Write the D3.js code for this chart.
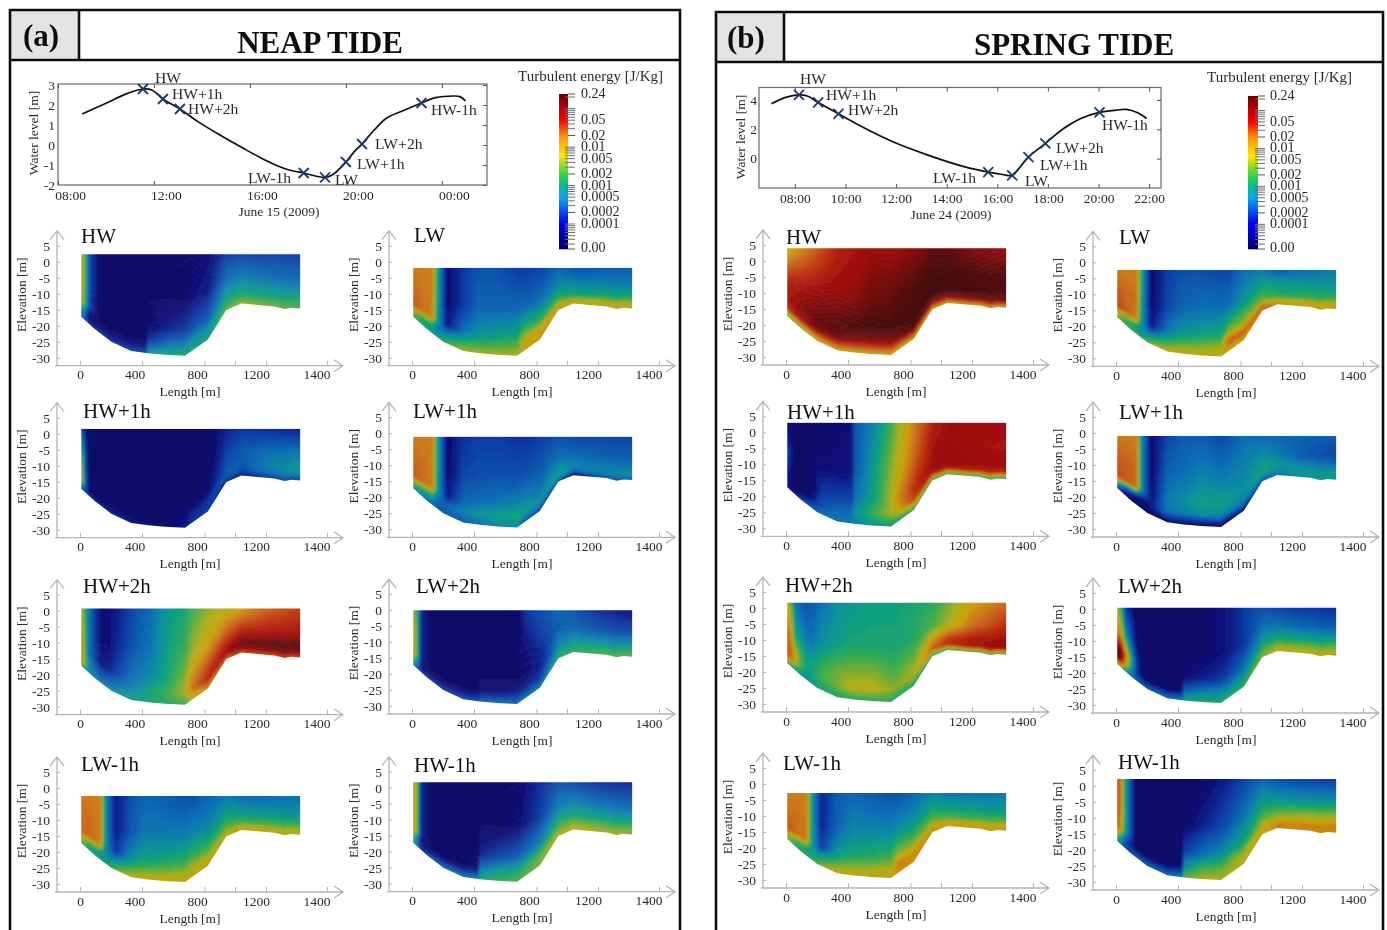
<!DOCTYPE html>
<html><head><meta charset="utf-8">
<style>html,body{margin:0;padding:0;background:#fff;overflow:hidden}svg{display:block;font-family:"Liberation Serif",serif}</style>
<script src="https://cdn.jsdelivr.net/npm/d3@7"></script></head><body>
<svg id="c" width="1387" height="930"></svg>
<script>
// Tide curves: time (hours, 24+ = next day) and water level (m)
const neapCurveT=[9.01,9.98,10.9,11.54,11.91,12.37,13.08,13.83,14.75,15.67,16.58,17.5,18.24,19.13,19.43,20,20.35,20.67,21.18,21.7,22.45,23.15,23.74,24.47,24.75,24.99];
const neapCurveL=[1.55,2.08,2.58,2.8,2.75,2.3,1.8,1.17,0.5,-0.13,-0.72,-1.2,-1.4,-1.62,-1.5,-0.85,-0.33,0.05,0.75,1.35,1.75,2.1,2.37,2.45,2.42,2.2];
const neapMarkT=[11.54,12.37,13.08,18.24,19.13,20,20.67,23.15];
const neapMarkL=[2.8,2.3,1.8,-1.4,-1.62,-0.85,0.05,2.1];
const springCurveT=[7.07,7.63,8.16,8.49,8.92,9.72,10.65,11.87,13.26,14.65,15.64,16.2,16.59,16.8,17.23,17.9,18.62,19.3,20.04,20.7,21.1,21.55,21.9];
const springCurveL=[3.74,4.18,4.35,4.27,3.83,3.06,2.17,1.15,0.24,-0.53,-0.92,-1.08,-1.14,-0.78,0.1,1.04,2.06,2.74,3.15,3.31,3.36,3.13,2.74];
const springMarkT=[8.16,8.92,9.72,15.64,16.59,17.23,17.9,20.04];
const springMarkL=[4.35,3.83,3.06,-0.92,-1.14,0.1,1.04,3.15];
const markNames=["HW","HW+1h","HW+2h","LW-1h","LW","LW+1h","LW+2h","HW-1h"];
const neapTicks=[8,12,16,20,24];
const springTicks=[8,10,12,14,16,18,20,22];
// Colour bar
const barLabelValues=[0.24,0.05,0.02,0.01,0.005,0.002,0.001,0.0005,0.0002,0.0001];
const barMajor=[0.24,0.02,0.002,0.0002];
// Cross-section: bed profile (length m, elevation m)
const bedX=[8,95,202,331,438,548,675,822,943,1041,1228,1261,1283,1312];
const bedZ=[-17.2,-21,-25,-27.9,-28.6,-29.1,-29.4,-24.3,-15.1,-13.1,-14,-14.8,-14.4,-14.6];
// Turbulent energy grid: columns (length m), rows (fraction of water depth below surface), values log10(J/kg)
const gridX=[8,35,60,130,165,230,330,425,440,560,680,720,830,950,1050,1312];
const gridS=[0,.45,.75,.88,1];
const neapHW=[
[-2.0,-2.7,-3.8,-4.6,-4.6,-4.6,-4.6,-4.6,-4.6,-4.6,-4.6,-4.6,-4.4,-4.0,-3.9,-4.0],
[-2.0,-2.7,-3.8,-4.6,-4.6,-4.6,-4.6,-4.6,-4.6,-4.6,-4.5,-4.4,-4.2,-3.5,-3.4,-3.6],
[-2.1,-2.8,-3.9,-4.6,-4.6,-4.6,-4.6,-4.6,-4.5,-4.2,-4.0,-3.9,-3.7,-3.0,-3.0,-3.1],
[-3.2,-3.6,-4.6,-4.6,-4.6,-4.6,-4.6,-4.6,-4.0,-3.6,-3.4,-3.3,-3.2,-2.8,-2.7,-2.8],
[-3.5,-3.8,-4.2,-4.0,-4.0,-4.0,-3.9,-3.9,-3.1,-2.9,-2.8,-2.9,-3.0,-2.5,-2.3,-2.6]];
const neapHWp1=[
[-3.7,-4.3,-4.6,-4.6,-4.6,-4.6,-4.6,-4.6,-4.6,-4.6,-4.6,-4.6,-4.6,-4.2,-4.0,-4.2],
[-2.4,-3.8,-4.6,-4.6,-4.6,-4.6,-4.6,-4.6,-4.6,-4.6,-4.6,-4.6,-4.6,-3.9,-3.7,-3.4],
[-2.1,-3.6,-4.6,-4.6,-4.6,-4.6,-4.6,-4.6,-4.6,-4.6,-4.6,-4.6,-4.4,-3.7,-3.7,-3.1],
[-2.1,-3.6,-4.5,-4.6,-4.6,-4.6,-4.6,-4.6,-4.6,-4.6,-4.4,-4.2,-4.0,-3.6,-3.8,-3.2],
[-3.9,-4.0,-4.1,-4.1,-4.1,-4.1,-4.2,-4.3,-4.3,-4.4,-4.3,-4.0,-4.0,-4.2,-4.3,-3.8]];
const neapHWp2=[
[-2.2,-2.9,-3.5,-4.4,-4.5,-4.3,-3.9,-3.6,-3.6,-3.1,-2.9,-2.7,-2.4,-2.2,-2.0,-1.4],
[-1.8,-2.8,-3.5,-4.4,-4.5,-4.2,-3.8,-3.5,-3.5,-3.0,-2.7,-2.4,-2.0,-1.6,-1.3,-1.1],
[-1.8,-2.7,-3.5,-4.2,-4.3,-4.0,-3.5,-3.3,-3.3,-2.9,-2.4,-1.9,-1.4,-1.1,-0.8,-0.7],
[-1.7,-2.6,-3.3,-3.8,-3.8,-3.6,-3.3,-3.1,-3.0,-2.7,-2.3,-1.7,-1.2,-1.0,-0.9,-0.8],
[-2.6,-3.0,-3.3,-3.4,-3.3,-3.1,-3.0,-2.9,-2.9,-2.8,-2.7,-2.3,-1.9,-1.6,-1.5,-1.5]];
const neapLWm1=[
[-1.8,-1.8,-1.8,-1.8,-3.2,-4.3,-3.8,-3.6,-3.6,-3.7,-3.8,-3.8,-3.6,-3.4,-3.6,-3.5],
[-1.7,-1.7,-1.7,-1.8,-3.2,-4.3,-3.7,-3.4,-3.4,-3.4,-3.4,-3.3,-3.3,-3.0,-3.1,-3.2],
[-1.7,-1.7,-1.7,-1.8,-3.2,-4.0,-3.2,-3.0,-3.0,-2.9,-2.8,-2.7,-2.7,-2.6,-2.7,-2.7],
[-2.3,-2.5,-2.8,-3.0,-3.3,-3.2,-2.7,-2.6,-2.6,-2.5,-2.4,-2.3,-2.3,-2.3,-2.3,-2.3],
[-2.6,-2.7,-2.9,-3.0,-2.9,-2.5,-2.2,-2.1,-2.1,-2.1,-2.1,-2.1,-2.1,-2.2,-2.1,-2.2]];
const neapLW=[
[-1.8,-1.8,-1.8,-1.8,-2.9,-4.5,-4.0,-3.8,-3.8,-3.8,-4.0,-4.0,-3.9,-3.6,-3.8,-3.7],
[-1.7,-1.7,-1.75,-1.8,-3.0,-4.5,-4.0,-3.6,-3.6,-3.6,-3.6,-3.6,-3.5,-3.2,-3.3,-3.3],
[-1.6,-1.6,-1.7,-1.8,-3.1,-4.3,-3.5,-3.2,-3.2,-3.1,-3.0,-2.7,-2.7,-2.7,-2.9,-2.8],
[-2.4,-2.6,-2.8,-3.0,-3.4,-3.3,-2.9,-2.8,-2.8,-2.7,-2.6,-2.1,-2.0,-2.1,-2.3,-2.2],
[-2.7,-2.7,-2.9,-3.0,-3.0,-2.6,-2.3,-2.3,-2.3,-2.3,-2.3,-2.1,-1.9,-2.0,-2.1,-2.2]];
const neapLWp1=[
[-1.8,-1.8,-1.8,-1.8,-3.0,-4.5,-4.1,-4.0,-4.0,-4.0,-4.1,-4.1,-4.0,-3.8,-3.9,-3.9],
[-1.7,-1.7,-1.7,-1.8,-3.0,-4.5,-3.9,-3.8,-3.8,-3.8,-3.8,-3.8,-3.7,-3.5,-3.6,-3.7],
[-1.6,-1.6,-1.7,-1.8,-3.1,-4.3,-3.6,-3.5,-3.5,-3.4,-3.3,-3.3,-3.4,-3.1,-3.3,-3.4],
[-2.6,-2.7,-2.9,-3.1,-3.6,-3.6,-3.3,-3.1,-3.1,-3.0,-2.9,-3.0,-3.2,-3.0,-3.5,-3.2],
[-3.1,-3.2,-3.4,-3.6,-3.7,-3.7,-3.7,-3.6,-3.5,-3.3,-3.3,-3.7,-3.9,-4.0,-4.6,-3.6]];
const neapLWp2=[
[-2.4,-2.8,-4.2,-4.6,-4.6,-4.6,-4.6,-4.6,-4.6,-4.6,-4.6,-4.1,-3.8,-3.6,-3.8,-4.4],
[-2.0,-2.7,-4.2,-4.6,-4.6,-4.6,-4.6,-4.6,-4.6,-4.6,-4.6,-4.4,-4.1,-3.6,-3.6,-3.9],
[-1.9,-2.7,-4.2,-4.6,-4.6,-4.6,-4.6,-4.6,-4.6,-4.6,-4.6,-4.5,-4.2,-3.3,-3.1,-3.2],
[-2.5,-3.2,-4.5,-4.6,-4.6,-4.6,-4.6,-4.6,-4.4,-4.4,-4.2,-4.2,-4.0,-3.0,-2.9,-2.8],
[-3.5,-3.7,-4.0,-3.9,-3.9,-3.9,-3.8,-3.8,-3.6,-3.5,-3.5,-3.5,-3.4,-2.9,-2.8,-2.6]];
const neapHWm1=[
[-1.9,-2.5,-4.2,-4.6,-4.6,-4.6,-4.6,-4.6,-4.6,-4.6,-4.6,-4.4,-4.1,-3.8,-3.9,-4.2],
[-1.9,-2.5,-4.2,-4.6,-4.6,-4.6,-4.6,-4.6,-4.6,-4.6,-4.4,-4.3,-3.9,-3.4,-3.3,-3.6],
[-1.9,-2.5,-4.2,-4.6,-4.6,-4.6,-4.6,-4.6,-4.2,-3.9,-3.7,-3.6,-3.3,-2.8,-2.8,-3.0],
[-2.6,-3.3,-4.6,-4.6,-4.6,-4.6,-4.6,-4.5,-3.5,-3.2,-3.0,-2.9,-2.6,-2.5,-2.4,-2.6],
[-3.2,-3.6,-4.0,-3.7,-3.6,-3.5,-3.4,-3.4,-2.9,-2.7,-2.6,-2.6,-2.4,-2.2,-2.2,-2.4]];
const springHW=[
[-2.2,-2.1,-2.0,-1.8,-1.7,-1.5,-1.2,-1.1,-1.1,-1.0,-1.0,-1.0,-0.9,-0.75,-0.75,-1.0],
[-1.3,-1.2,-1.2,-1.1,-1.05,-1.0,-1.0,-0.95,-0.95,-0.8,-0.75,-0.7,-0.65,-0.6,-0.6,-0.7],
[-1.1,-1.0,-1.0,-0.8,-0.8,-0.75,-0.7,-0.65,-0.65,-0.6,-0.6,-0.6,-0.6,-0.6,-0.6,-0.65],
[-1.3,-1.2,-1.1,-1.0,-0.9,-0.85,-0.8,-0.9,-0.9,-0.9,-0.9,-0.8,-0.65,-0.9,-0.9,-0.8],
[-2.6,-2.6,-2.6,-2.4,-2.3,-2.2,-2.1,-2.1,-2.1,-2.1,-2.1,-2.1,-2.1,-2.1,-2.1,-2.1]];
const springHWp1=[
[-4.5,-4.5,-4.6,-4.6,-4.6,-4.6,-4.5,-4.4,-3.8,-3.3,-2.7,-2.4,-1.8,-1.2,-1.0,-1.05],
[-3.9,-4.3,-4.6,-4.6,-4.5,-4.4,-4.4,-4.4,-3.8,-3.1,-2.4,-2.2,-1.6,-1.05,-1.0,-1.1],
[-4.1,-4.4,-4.6,-4.6,-4.6,-4.0,-3.9,-3.9,-3.5,-3.0,-2.3,-1.9,-1.3,-1.0,-1.0,-1.0],
[-4.3,-4.5,-4.6,-4.6,-4.3,-3.8,-3.6,-3.5,-3.2,-2.7,-2.3,-2.0,-1.4,-1.2,-1.2,-1.3],
[-4.3,-4.3,-4.1,-3.7,-3.6,-3.5,-3.4,-3.4,-3.3,-3.1,-3.0,-3.0,-2.8,-2.9,-2.9,-2.9]];
const springHWp2=[
[-2.2,-2.6,-3.5,-3.8,-3.7,-3.5,-3.2,-3.1,-3.1,-3.0,-3.0,-3.0,-2.9,-2.8,-2.5,-1.7],
[-1.6,-2.0,-3.0,-3.4,-3.5,-3.2,-3.0,-2.9,-2.9,-2.9,-2.9,-2.9,-2.8,-2.6,-2.3,-1.3],
[-1.6,-1.6,-2.2,-3.0,-3.0,-2.7,-2.5,-2.4,-2.4,-2.4,-2.6,-2.6,-2.4,-1.8,-1.4,-0.95],
[-1.7,-1.7,-2.2,-3.0,-3.0,-2.7,-2.5,-2.2,-2.2,-2.2,-2.4,-2.4,-2.3,-1.6,-1.3,-1.0],
[-3.0,-3.0,-3.1,-3.2,-3.1,-2.9,-2.9,-2.8,-2.8,-2.8,-2.8,-2.9,-2.9,-3.0,-2.9,-2.8]];
const springLWm1=[
[-1.8,-1.8,-1.8,-1.8,-3.0,-4.2,-3.7,-3.6,-3.6,-3.7,-3.8,-3.8,-3.6,-3.3,-3.5,-3.4],
[-1.7,-1.7,-1.7,-1.8,-3.0,-4.2,-3.6,-3.3,-3.3,-3.3,-3.3,-3.2,-3.1,-2.9,-3.0,-3.1],
[-1.6,-1.6,-1.7,-1.8,-3.0,-3.9,-3.1,-2.9,-2.9,-2.8,-2.7,-2.4,-2.4,-2.4,-2.6,-2.6],
[-2.2,-2.4,-2.7,-2.9,-3.1,-3.0,-2.6,-2.5,-2.5,-2.4,-2.3,-1.8,-1.9,-2.0,-2.1,-2.1],
[-2.5,-2.6,-2.8,-2.9,-2.8,-2.4,-2.1,-2.1,-2.1,-2.1,-2.1,-1.9,-1.9,-1.9,-2.0,-2.0]];
const springLW=[
[-1.8,-1.8,-1.8,-1.8,-2.9,-4.5,-4.0,-3.8,-3.8,-3.8,-3.9,-3.9,-3.5,-3.4,-3.7,-3.4],
[-1.6,-1.6,-1.7,-1.7,-3.0,-4.5,-3.9,-3.6,-3.6,-3.5,-3.5,-3.5,-3.1,-2.9,-3.0,-3.1],
[-1.5,-1.5,-1.6,-1.8,-3.1,-4.3,-3.4,-3.1,-3.1,-3.0,-2.9,-2.5,-2.3,-2.5,-2.8,-2.7],
[-2.2,-2.5,-2.7,-2.9,-3.3,-3.2,-2.8,-2.6,-2.6,-2.5,-2.4,-1.6,-1.6,-1.7,-2.2,-2.1],
[-2.5,-2.5,-2.7,-2.9,-2.9,-2.4,-2.1,-2.1,-2.1,-2.1,-2.1,-2.2,-2.1,-1.7,-1.9,-2.0]];
const springLWp1=[
[-1.8,-1.8,-1.8,-1.8,-3.2,-4.5,-3.9,-3.7,-3.7,-3.7,-3.9,-3.8,-3.5,-3.6,-3.6,-3.7],
[-1.6,-1.6,-1.6,-1.7,-3.2,-4.5,-3.6,-3.5,-3.5,-3.3,-3.4,-3.4,-3.3,-3.2,-3.4,-3.9],
[-1.5,-1.5,-1.6,-1.7,-3.2,-4.4,-3.4,-3.2,-3.2,-3.0,-3.0,-3.1,-3.2,-2.9,-3.1,-3.3],
[-2.7,-3.2,-3.8,-4.3,-4.5,-4.2,-3.5,-3.4,-3.4,-3.2,-3.3,-3.3,-3.4,-3.2,-3.3,-3.0],
[-4.2,-4.3,-4.5,-4.6,-4.6,-4.5,-4.5,-4.5,-4.5,-4.6,-4.6,-4.6,-4.3,-3.8,-3.4,-3.1]];
const springLWp2=[
[-2.3,-2.8,-4.0,-4.6,-4.6,-4.6,-4.6,-4.6,-4.6,-4.6,-4.4,-4.3,-4.0,-3.8,-3.9,-4.1],
[-1.6,-2.0,-3.0,-4.4,-4.6,-4.6,-4.6,-4.6,-4.6,-4.6,-4.4,-4.3,-4.0,-3.4,-3.4,-3.6],
[-0.6,-0.7,-1.6,-3.9,-4.5,-4.6,-4.6,-4.6,-4.4,-4.2,-4.0,-3.9,-3.5,-2.9,-2.8,-2.8],
[-0.9,-1.0,-1.9,-3.9,-4.4,-4.6,-4.6,-4.6,-3.7,-3.4,-3.3,-3.3,-3.1,-2.6,-2.4,-2.4],
[-2.4,-2.6,-3.3,-3.7,-3.7,-3.6,-3.5,-3.3,-2.9,-2.8,-2.8,-2.8,-2.7,-2.4,-2.2,-2.2]];
const springHWm1=[
[-1.4,-1.9,-3.0,-4.6,-4.6,-4.6,-4.6,-4.6,-4.6,-4.6,-4.3,-4.2,-3.9,-3.6,-3.8,-4.0],
[-1.5,-1.9,-3.0,-4.6,-4.6,-4.6,-4.6,-4.6,-4.5,-4.2,-3.9,-3.8,-3.4,-3.0,-3.1,-3.1],
[-1.5,-2.0,-3.0,-4.6,-4.6,-4.6,-4.6,-4.5,-3.9,-3.5,-3.2,-3.1,-2.9,-2.5,-2.4,-2.2],
[-2.2,-3.0,-3.7,-4.6,-4.6,-4.6,-4.6,-4.4,-3.2,-2.7,-2.6,-2.5,-2.3,-2.1,-1.9,-1.8],
[-3.2,-3.6,-3.9,-3.6,-3.6,-3.5,-3.5,-3.4,-2.5,-2.3,-2.3,-2.3,-2.2,-2.1,-1.8,-1.9]];
// Water surface elevation of each section (m)
const neapSurface=[2.3,1.56,0.7,-2.5,-1.9,-1.04,-0.1,1.67];
const springSurface=[4.0,3.0,1.67,-2.8,-2.4,-0.94,0.4,2.2];
const sectionNames=["HW","HW+1h","HW+2h","LW-1h","LW","LW+1h","LW+2h","HW-1h"];
const neapGrids=[neapHW,neapHWp1,neapHWp2,neapLWm1,neapLW,neapLWp1,neapLWp2,neapHWm1];
const springGrids=[springHW,springHWp1,springHWp2,springLWm1,springLW,springLWp1,springLWp2,springHWm1];
const lengthTicks=[0,400,800,1000,1200,1400];
const elevTicks=[5,0,-5,-10,-15,-20,-25,-30];

// ---- layout (positions only) ----
const neapLayout={
 origin:[[80,261.7],[80,433.7],[80,610.7],[80,788],[412,261.7],[412,433.3],[412,610],[412,787.7]],
 title:[[81,243],[83,418],[83,593],[81,771],[414,242],[413,418],[416,593],[414,772]],
 box:{x0:58,x1:487,top:84,bot:185},tx:[8,25.88],ty:[-2,3],
 tr:[185,85],yTicks:[3,2,1,0,-1,-2],xDx:12,ylX:38,ylY:133,yAnchor:55,tickY:200,
 date:"June 15 (2009)",dateX:279,dateY:216,
 marks:[[155,78],[172,94],[188,109],[248,178],[335,180],[357,164],[375,144],[431,110]],
 barX:559,barR:568,barTop:94,barLabel:581,legX:518,legY:81};
const springLayout={
 origin:[[786,261],[786,432.3],[786,608],[786,784],[1116,262.3],[1116,433],[1116,609],[1116,786]],
 title:[[786,244],[787,419],[785,592],[783,770],[1119,244],[1119,419],[1118,593],[1118,769]],
 box:{x0:759,x1:1161,top:87.5,bot:188},tx:[6.58,22.47],ty:[-2,4.85],
 tr:[188,87.5],yTicks:[4,2,0],xDx:0,ylX:745,ylY:137,yAnchor:757,tickY:201,
 date:"June 24 (2009)",dateX:951,dateY:219,
 marks:[[800,79],[826,95],[848,110],[933,178],[1025,181],[1040,165],[1056,148],[1102,125]],
 barX:1248,barR:1258,barTop:96,barLabel:1270,legX:1207,legY:82};
const lenRange=[0,62,124.5,155,186,247];
const lenLabelDx=[0,-7.5,-7.5,0,-10,-10.5];
const markLabelsFont=15.6;

const svg=d3.select("#c");
const defs=svg.append("defs");
defs.append("filter").attr("id","soft").attr("x",0).attr("y",0).attr("width",1387).attr("height",930)
 .attr("filterUnits","userSpaceOnUse").append("feGaussianBlur").attr("stdDeviation",0.45);
defs.append("filter").attr("id","smooth").append("feGaussianBlur").attr("stdDeviation",1.0);
const root=svg.append("g").attr("filter","url(#soft)");
root.append("rect").attr("width",1387).attr("height",930).attr("fill","#fff");
const INK="#2a2a2a";

// colour scales
const fieldDomain=[-4.65,-4.3,-4.0,-3.5,-3.2,-3.0,-2.7,-2.3,-2.0,-1.7,-1.3,-1.0,-0.62];
const fieldStops=["#00005c","#000a78","#0030a0","#0068b0","#008a9a","#009a78","#30a848","#a8aa10","#c89a00","#c86410","#b82000","#960000","#3c0000"];
const fieldColor=d3.scaleLinear().domain(fieldDomain).range(fieldStops).clamp(true).interpolate(d3.interpolateRgb);
const barDomain=[-4.65,-4.0,-3.3,-3.0,-2.7,-2.2,-1.7,-1.3,-1.0,-0.62];
const barStops=["#000070","#0000f0","#00a8f0","#00c090","#40d040","#ffe800","#ff9000","#ff0000","#c00000","#6a0000"];
const barColor=d3.scaleLinear().domain(barDomain).range(barStops).clamp(true);

const bedAt=d3.scaleLinear().domain(bedX).range(bedZ).clamp(true);
const colIdx=d3.scaleLinear().domain(gridX).range(d3.range(gridX.length)).clamp(true);
const rowIdx=d3.scaleLinear().domain(gridS).range(d3.range(gridS.length)).clamp(true);
const fieldValue=(g,xm,s)=>{
  const ci=colIdx(xm),ri=rowIdx(s);
  const c0=Math.min(Math.floor(ci),gridX.length-2),r0=Math.min(Math.floor(ri),gridS.length-2);
  const fx=ci-c0,fy=ri-r0;
  const a=g[r0][c0]*(1-fx)+g[r0][c0+1]*fx, b=g[r0+1][c0]*(1-fx)+g[r0+1][c0+1]*fx;
  return a*(1-fy)+b*fy;
};
const xLen=d3.scaleLinear().domain(lengthTicks).range(lenRange);
const yElev=d3.scaleLinear().domain([0,-30]).range([0,96]);

let pid=0;
function section(g,grid,surface,ox,oy,name,tx,ty){
  pid++;
  const p=g.append("g").attr("transform",`translate(${ox},${oy})`);
  const area=d3.area().x(d=>xLen(d)).y0(yElev(surface)).y1(d=>yElev(bedAt(d)));
  defs.append("clipPath").attr("id","w"+pid).append("path").attr("d",area(bedX));
  const cells=[];
  const step=2;
  const px0=xLen(bedX[0]),px1=xLen(bedX[bedX.length-1]);
  const top=yElev(surface);
  for(let px=px0-4;px<px1+4;px+=step){
    const xm=xLen.invert(px+step/2), bed=bedAt(xm), by=yElev(bed);
    let run=null;
    for(let py=top-4;py<by+5;py+=step){
      const z=yElev.invert(py+step/2);
      const s=Math.max(0,Math.min(1,(surface-z)/(surface-bed)));
      const col=fieldColor(Math.round(fieldValue(grid,xm,s)*30)/30);
      if(run&&run.c===col){run.h+=step;}
      else{run={x:px,y:py,h:step,c:col};cells.push(run);}
    }
  }
  p.append("g").attr("clip-path",`url(#w${pid})`).append("g").attr("filter","url(#smooth)")
   .selectAll("rect").data(cells).join("rect")
   .attr("x",d=>d.x).attr("y",d=>d.y).attr("width",step+.3).attr("height",d=>d.h+.3).attr("fill",d=>d.c);
  const AX="#b5b5b5";
  const yAx=p.append("g").attr("transform","translate(-23,0)");
  yAx.call(d3.axisLeft(yElev).tickValues(elevTicks).tickSize(-3).tickPadding(7).tickFormat(d=>d));
  yAx.select(".domain").remove();
  yAx.selectAll("line").attr("stroke",AX).attr("stroke-width",1);
  yAx.selectAll("text").attr("font-size",13.5).attr("fill",INK).attr("font-family","Liberation Serif");
  const xAx=p.append("g").attr("transform","translate(0,104)");
  xAx.call(d3.axisBottom(xLen).tickValues(lengthTicks).tickSize(-5).tickPadding(4).tickFormat(d=>d===1000?"":d));
  xAx.select(".domain").remove();
  xAx.selectAll("line").attr("stroke",AX).attr("stroke-width",1);
  xAx.selectAll("text").attr("font-size",13.5).attr("fill",INK).attr("font-family","Liberation Serif")
     .attr("dx",(d,i)=>lenLabelDx[i]);
  const ln=d3.line();
  p.append("path").attr("d",ln([[-25,104],[263,104]])+ln([[254,98],[263,104],[254,110]])+ln([[-23,104],[-23,-31]])+ln([[-30,-22],[-23,-31],[-16,-22]]))
   .attr("fill","none").attr("stroke",AX).attr("stroke-width",1.3);
  p.append("text").attr("x",110).attr("y",134.5).attr("text-anchor","middle").attr("font-size",13.5).attr("fill",INK).text("Length [m]");
  p.append("text").attr("transform","translate(-54.5,33) rotate(-90)").attr("text-anchor","middle").attr("font-size",13.5).attr("fill",INK).text("Elevation [m]");
  g.append("text").attr("x",tx).attr("y",ty).attr("font-size",21).attr("fill","#111").text(name);
}

function tide(g,L,curveT,curveL,markT,markL,ticks){
  const x=d3.scaleLinear().domain(L.tx).range([L.box.x0,L.box.x1]);
  const y=d3.scaleLinear().domain(L.ty).range(L.tr);
  g.append("rect").attr("x",L.box.x0).attr("y",L.box.top).attr("width",L.box.x1-L.box.x0).attr("height",L.box.bot-L.box.top)
   .attr("fill","none").attr("stroke","#666").attr("stroke-width",1.2);
  const fmt=d=>String(d%24).padStart(2,"0")+":00";
  const b=g.append("g").attr("transform",`translate(0,${L.box.bot})`);
  b.call(d3.axisBottom(x).tickValues(ticks).tickSize(-4).tickPadding(5).tickFormat(fmt));
  b.select(".domain").remove();
  b.selectAll("line").attr("stroke","#555");
  b.selectAll("text").attr("font-size",13.5).attr("fill",INK).attr("font-family","Liberation Serif").attr("dx",L.xDx);
  const t=g.append("g").attr("transform",`translate(0,${L.box.top})`);
  t.call(d3.axisTop(x).tickValues(ticks).tickSize(-4).tickFormat(""));
  t.select(".domain").remove();t.selectAll("line").attr("stroke","#555");
  const l=g.append("g").attr("transform",`translate(${L.box.x0},0)`);
  l.call(d3.axisLeft(y).tickValues(L.yTicks).tickSize(0).tickPadding(L.box.x0-L.yAnchor).tickFormat(d=>d));
  l.select(".domain").remove();
  l.selectAll("text").attr("font-size",13.5).attr("fill",INK).attr("font-family","Liberation Serif");
  const r=g.append("g").attr("transform",`translate(${L.box.x1},0)`);
  r.call(d3.axisRight(y).tickValues(L.yTicks).tickSize(-4).tickFormat(""));
  r.select(".domain").remove();r.selectAll("line").attr("stroke","#555");
  g.append("text").attr("transform",`translate(${L.ylX},${L.ylY}) rotate(-90)`).attr("text-anchor","middle").attr("font-size",13.5).attr("fill",INK).text("Water level [m]");
  g.append("text").attr("x",L.dateX).attr("y",L.dateY).attr("text-anchor","middle").attr("font-size",13.5).attr("fill",INK).text(L.date);
  g.append("path").attr("d",d3.line().x(d=>x(d[0])).y(d=>y(d[1])).curve(d3.curveCatmullRom)(d3.zip(curveT,curveL)))
   .attr("fill","none").attr("stroke","#111").attr("stroke-width",1.7);
  const pts=d3.zip(markT,markL);
  const s=5;
  g.append("g").selectAll("path").data(pts).join("path")
   .attr("d",d=>{const X=x(d[0]),Y=y(d[1]);return `M${X-s},${Y-s}L${X+s},${Y+s}M${X-s},${Y+s}L${X+s},${Y-s}`;})
   .attr("stroke","#1d3a6b").attr("stroke-width",1.8).attr("fill","none");
  g.append("g").selectAll("text").data(markNames).join("text")
   .attr("x",(d,i)=>L.marks[i][0]).attr("y",(d,i)=>L.marks[i][1]+4.5)
   .attr("font-size",markLabelsFont).attr("fill",INK).text(d=>d);
}

function colorbar(g,L){
  const bot=249;
  const c=d3.scaleLog().domain([2.24e-5,0.24]).range([bot,L.barTop]);
  const strips=d3.range(L.barTop,bot);
  g.append("g").selectAll("rect").data(strips).join("rect")
   .attr("x",L.barX).attr("y",d=>d).attr("width",L.barR-L.barX).attr("height",1.3)
   .attr("fill",d=>barColor(Math.log10(c.invert(d+.5))));
  const minors=c.ticks().filter(v=>!barMajor.includes(v));
  g.append("g").selectAll("line").data(minors).join("line")
   .attr("x1",L.barR-3).attr("x2",L.barR+7).attr("y1",d=>c(d)).attr("y2",d=>c(d)).attr("stroke","#6e6e6e").attr("stroke-width",1);
  g.append("g").selectAll("line").data(barMajor.concat([2.24e-5])).join("line")
   .attr("x1",L.barR).attr("x2",L.barR+7).attr("y1",d=>c(d)).attr("y2",d=>c(d)).attr("stroke","#555").attr("stroke-width",1);
  g.append("g").selectAll("text").data(barLabelValues).join("text")
   .attr("x",L.barLabel).attr("y",d=>c(d)+4).attr("font-size",14).attr("fill",INK).text(d=>d);
  g.append("text").attr("x",L.barLabel).attr("y",bot+3).attr("font-size",14).attr("fill",INK).text("0.00");
  g.append("text").attr("x",L.legX).attr("y",L.legY).attr("font-size",15).attr("fill",INK).text("Turbulent energy [J/Kg]");
}

function frame(g,x0,x1,top,hb,dv,label,title,labX,titX,labY,titY,size){
  g.append("rect").attr("x",x0).attr("y",top).attr("width",dv-x0).attr("height",hb-top).attr("fill","#e4e4e4");
  g.append("path").attr("d",`M${x0},940V${top}H${x1}V940M${x0},${hb}H${x1}M${dv},${top}V${hb}`)
   .attr("fill","none").attr("stroke","#111").attr("stroke-width",2.6);
  g.append("text").attr("x",labX).attr("y",labY).attr("text-anchor","middle").attr("font-size",31).attr("font-weight",700).attr("fill","#111").text(label);
  g.append("text").attr("x",titX).attr("y",titY).attr("text-anchor","middle").attr("font-size",size).attr("font-weight",700).attr("fill","#111").text(title);
}

frame(root,10,680,10,60,79,"(a)","NEAP TIDE",41,320,45.5,53,31);
frame(root,716,1383,12,62,784,"(b)","SPRING TIDE",746,1074,48,55,31);
tide(root,neapLayout,neapCurveT,neapCurveL,neapMarkT,neapMarkL,neapTicks);
tide(root,springLayout,springCurveT,springCurveL,springMarkT,springMarkL,springTicks);
colorbar(root,neapLayout);colorbar(root,springLayout);
sectionNames.forEach((n,i)=>{
  section(root,neapGrids[i],neapSurface[i],neapLayout.origin[i][0],neapLayout.origin[i][1],n,neapLayout.title[i][0],neapLayout.title[i][1]);
  section(root,springGrids[i],springSurface[i],springLayout.origin[i][0],springLayout.origin[i][1],n,springLayout.title[i][0],springLayout.title[i][1]);
});
</script></body></html>
